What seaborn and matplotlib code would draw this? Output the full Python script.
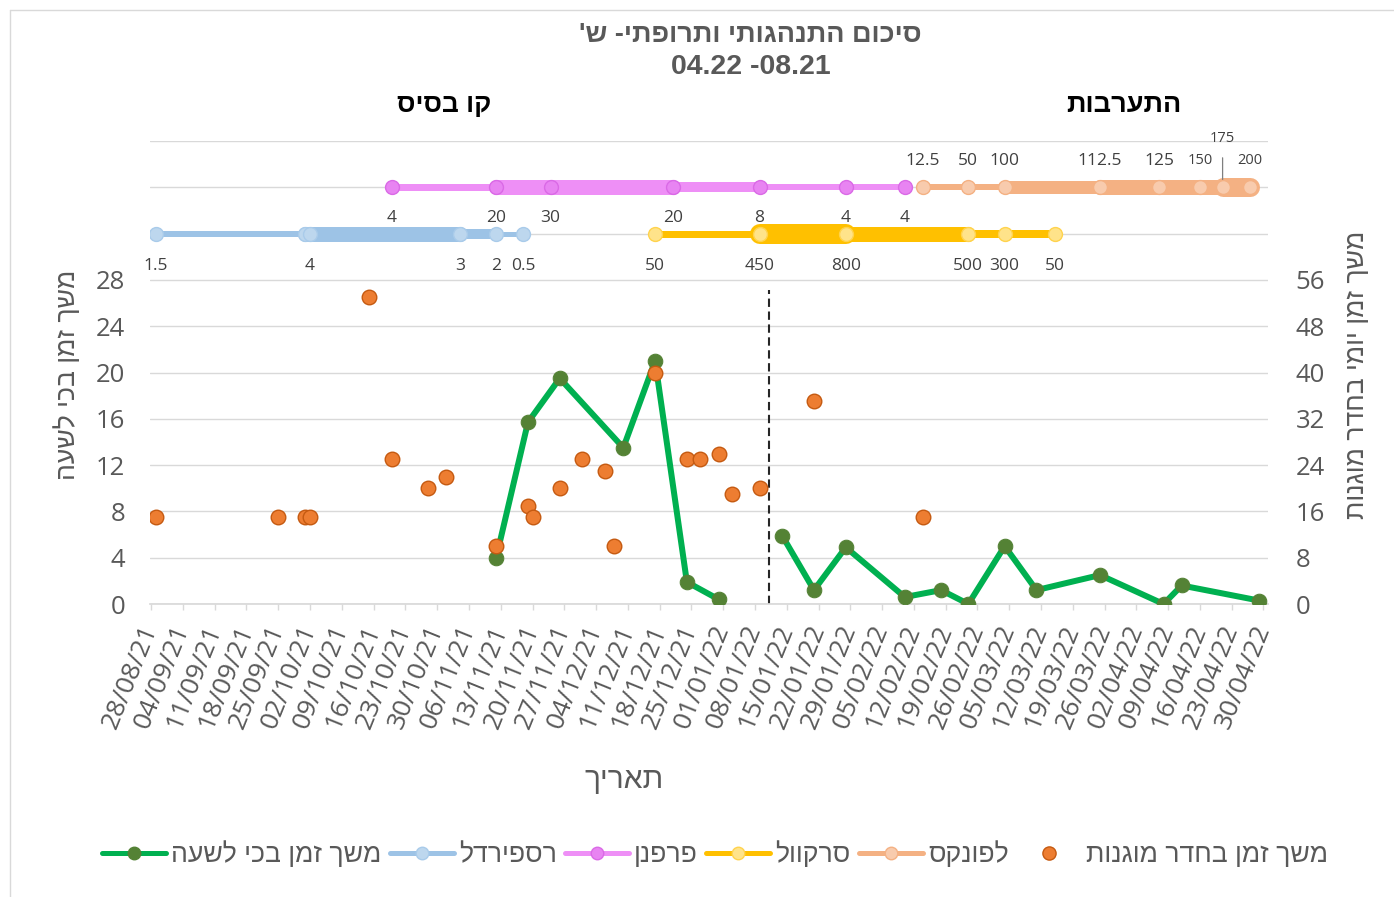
import matplotlib
matplotlib.use("Agg")
import matplotlib.pyplot as plt
from matplotlib.lines import Line2D
from matplotlib.font_manager import FontProperties
import pandas as pd
import seaborn as sns


def heb(text):
    # matplotlib has no bidi support, so Hebrew is written in visual order
    return text[::-1]


# crying duration per hour (left axis); two blocks, gap around the new year
cry_dates = ["2021-11-12", "2021-11-19", "2021-11-26", "2021-12-10", "2021-12-17",
             "2021-12-24", "2021-12-31",
             "2022-01-14", "2022-01-21", "2022-01-28", "2022-02-10", "2022-02-18",
             "2022-02-24", "2022-03-04", "2022-03-11", "2022-03-25", "2022-04-08",
             "2022-04-12", "2022-04-29"]
cry_values = [4, 15.7, 19.5, 13.5, 21, 1.9, 0.4,
              5.9, 1.2, 4.9, 0.6, 1.2, 0, 5, 1.2, 2.5, 0, 1.6, 0.3]
cry_block = [1] * 7 + [2] * 12

# daily time in the protected room (right axis)
room_dates = ["2021-08-29", "2021-09-25", "2021-10-01", "2021-10-02", "2021-10-15",
              "2021-10-20", "2021-10-28", "2021-11-01", "2021-11-12", "2021-11-19",
              "2021-11-20", "2021-11-26", "2021-12-01", "2021-12-06", "2021-12-08",
              "2021-12-17", "2021-12-24", "2021-12-27", "2021-12-31", "2022-01-03",
              "2022-01-09", "2022-01-21", "2022-02-14"]
room_values = [15, 15, 15, 15, 53, 25, 20, 22, 10, 17, 15, 20, 25, 23, 10,
               40, 25, 25, 26, 19, 20, 35, 15]

intervention_date = "2022-01-11"

# medication changes and doses
risperdal_dates = ["2021-08-29", "2021-10-01", "2021-10-02", "2021-11-04", "2021-11-12", "2021-11-18"]
risperdal_doses = ["1.5", "", "4", "3", "2", "0.5"]
perphenazine_dates = ["2021-10-20", "2021-11-12", "2021-11-24", "2021-12-21", "2022-01-09",
                      "2022-01-28", "2022-02-10"]
perphenazine_doses = ["4", "20", "30", "20", "8", "4", "4"]
seroquel_dates = ["2021-12-17", "2022-01-09", "2022-01-28", "2022-02-24", "2022-03-04", "2022-03-15"]
seroquel_doses = ["50", "450", "800", "500", "300", "50"]
lafonex_dates = ["2022-02-14", "2022-02-24", "2022-03-04", "2022-03-25", "2022-04-07",
                 "2022-04-16", "2022-04-21", "2022-04-27"]
lafonex_doses = ["12.5", "50", "100", "112.5", "125", "150", "175", "200"]

week_ticks = pd.date_range("2021-08-28", "2022-04-30", freq="7D")

sns.set_theme(style="white")
plt.rcParams["font.family"] = ["Open Sans", "Liberation Sans", "DejaVu Sans"]
HEB = ["Liberation Sans", "DejaVu Sans"]
GRAY = "#595959"
GRID = "#D9D9D9"
PX = 0.72  # points per pixel at dpi 100

fig = plt.figure(figsize=(13.94, 8.97), dpi=100)
ax = fig.add_axes([150 / 1394, 293 / 897, 1118 / 1394, 463 / 897])
ax2 = ax.twinx()

# left axis: crying line
cry = pd.DataFrame({"date": pd.to_datetime(cry_dates), "value": cry_values, "block": cry_block})
sns.lineplot(data=cry, x="date", y="value", units="block", estimator=None, sort=False,
             color="#00B050", lw=6 * PX, marker="o", markersize=10.5,
             markerfacecolor="#548235", markeredgecolor="#548235", ax=ax, legend=False, zorder=5)

ax.axvline(pd.Timestamp(intervention_date), ymin=0, ymax=27.1 / 40, color="#262626",
           lw=1.5, ls=(0, (4, 2.2)), zorder=2)


def draw_med(dates, doses, level, widths, line_col, face_col, edge_col, offset, small=()):
    d = pd.to_datetime(dates)
    for i in range(len(d) - 1):
        ax.plot([d[i], d[i + 1]], [level, level], color=line_col, lw=widths[i] * PX,
                solid_capstyle="round", zorder=3)
    ax.plot(d, [level] * len(d), ls="none", marker="o", ms=10, mfc=face_col,
            mec=edge_col, mew=1, zorder=4)
    for x, lab in zip(d, doses):
        if not lab:
            continue
        if lab == "175":
            ax.annotate(lab, (x, level), xytext=(0, 35), textcoords="offset points",
                        ha="center", va="center", fontsize=10.5, color="#404040",
                        arrowprops=dict(arrowstyle="-", color="#7F7F7F", lw=0.9,
                                        shrinkA=6, shrinkB=1))
            continue
        ax.annotate(lab, (x, level), xytext=(0, offset), textcoords="offset points",
                    ha="center", va="center", fontsize=10.5 if lab in small else 12.5,
                    color="#404040")


draw_med(risperdal_dates, risperdal_doses, 32, [6, 15, 15, 10, 5],
         "#9DC3E6", "#BDD7EE", "#A9CBEA", -23)
draw_med(perphenazine_dates, perphenazine_doses, 36, [7, 15, 15, 10, 6, 6],
         "#EE8FF6", "#E884F2", "#DA6AE6", -22)
draw_med(seroquel_dates, seroquel_doses, 32, [7, 20, 15, 8, 8],
         "#FFC000", "#FFE38A", "#FFD34D", -23)
draw_med(lafonex_dates, lafonex_doses, 36, [6, 6, 13, 15, 15, 15, 19],
         "#F4B183", "#F8CBAD", "#F4B183", 19, small=("150", "200"))

# right axis: protected room dots
sns.scatterplot(x=pd.to_datetime(room_dates), y=room_values, ax=ax2, s=110,
                color="#ED7D31", edgecolor="#C55A11", linewidth=1.0, zorder=6, legend=False)

start = pd.Timestamp("2021-08-28")
ax.set_xlim(start - pd.Timedelta(days=0.25), start + pd.Timedelta(days=246))
ax.set_ylim(0, 40)
ax2.set_ylim(0, 80)

ax.set_yticks(range(0, 41, 4))
ax.set_yticklabels([str(v) if v <= 28 else "" for v in range(0, 41, 4)])
ax2.set_yticks(range(0, 81, 8))
ax2.set_yticklabels([str(v) if v <= 56 else "" for v in range(0, 81, 8)])
ax.grid(axis="y", color=GRID, lw=1)
ax.set_axisbelow(True)

ax.set_xticks(week_ticks)
ax.set_xticklabels([t.strftime("%d/%m/%y") for t in week_ticks])
plt.setp(ax.get_xticklabels(), rotation=68, ha="right", va="center", rotation_mode="anchor")
ax.tick_params(axis="x", length=6 * PX, width=1, color=GRID, direction="out", pad=11,
               labelsize=19, labelcolor=GRAY, bottom=True)
ax.tick_params(axis="y", length=0, pad=18, labelsize=18.5, labelcolor=GRAY)
ax2.tick_params(axis="y", length=0, pad=20, labelsize=18.5, labelcolor=GRAY)
ax.set_xlabel("")
ax.set_ylabel("")
ax2.set_ylabel("")

for a in (ax, ax2):
    for side in ("top", "left", "right"):
        a.spines[side].set_visible(False)
ax.spines["bottom"].set_color(GRID)
ax2.spines["bottom"].set_visible(False)

# axis titles
fig.text(68 / 1394, 1 - 375 / 897, heb("משך זמן בכי לשעה"), rotation=90, ha="center",
         va="center", fontsize=19.2, color=GRAY, family=HEB)
fig.text(1357 / 1394, 1 - 375 / 897, heb("משך זמן יומי בחדר מוגנות"), rotation=90,
         ha="center", va="center", fontsize=19.2, color=GRAY, family=HEB)
fig.text(624 / 1394, 1 - 780 / 897, heb("תאריך"), ha="center", va="center",
         fontsize=21.5, color=GRAY, family=HEB)

# titles
fig.text(750 / 1394, 1 - 35 / 897, heb("סיכום התנהגותי ותרופתי- ש'"), ha="center",
         va="center", fontsize=19.5, color=GRAY, weight="bold", family=HEB)
fig.text(751 / 1394, 1 - 67 / 897, "04.22 -08.21", ha="center", va="center",
         fontsize=20.5, color=GRAY, weight="bold", family=HEB)
fig.text(444 / 1394, 1 - 105 / 897, heb("קו בסיס"), ha="center", va="center",
         fontsize=19, color="black", weight="bold", family=HEB)
fig.text(1124 / 1394, 1 - 105 / 897, heb("התערבות"), ha="center", va="center",
         fontsize=19.5, color="black", weight="bold", family=HEB)

# legend
handles = [
    Line2D([0], [0], color="#00B050", lw=5 * PX, marker="o", ms=9, mfc="#548235", mec="#548235"),
    Line2D([0], [0], color="#9DC3E6", lw=5 * PX, marker="o", ms=9, mfc="#BDD7EE", mec="#A9CBEA"),
    Line2D([0], [0], color="#EE8FF6", lw=5 * PX, marker="o", ms=9, mfc="#E884F2", mec="#DA6AE6"),
    Line2D([0], [0], color="#FFC000", lw=5 * PX, marker="o", ms=9, mfc="#FFE38A", mec="#FFD34D"),
    Line2D([0], [0], color="#F4B183", lw=5 * PX, marker="o", ms=9, mfc="#F8CBAD", mec="#F4B183"),
    Line2D([0], [0], ls="none", marker="o", ms=9.5, mfc="#ED7D31", mec="#C55A11"),
]
labels = [heb("משך זמן בכי לשעה"), heb("רספירדל"), heb("פרפנן"), heb("סרקוול"),
          heb("לפונקס"), heb("משך זמן בחדר מוגנות")]
fig.legend(handles, labels, loc="center", bbox_to_anchor=(715 / 1394, 1 - 855 / 897),
           ncol=6, frameon=False, handlelength=2.4, handletextpad=0.2, columnspacing=0.3,
           prop=FontProperties(family=HEB, size=19.2), labelcolor=GRAY)

# chart frame peeking from the sheet
fig.add_artist(Line2D([10 / 1394, 10 / 1394], [0, 1 - 10 / 897], transform=fig.transFigure,
                      color=GRID, lw=1))
fig.add_artist(Line2D([10 / 1394, 1], [1 - 10 / 897, 1 - 10 / 897], transform=fig.transFigure,
                      color=GRID, lw=1))

fig.savefig("out.png", dpi=100)
